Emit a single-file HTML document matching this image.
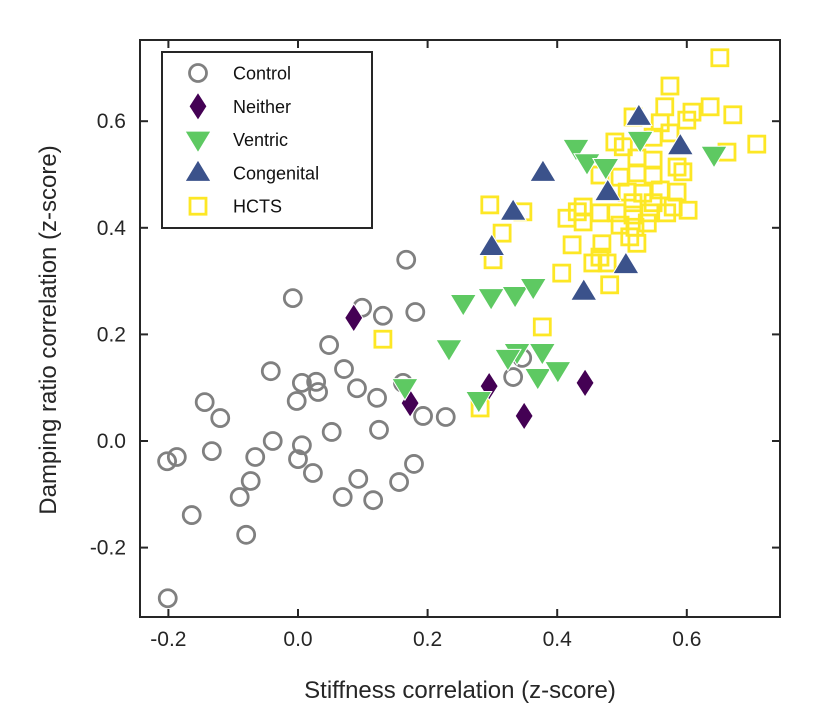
<!DOCTYPE html>
<html><head><meta charset="utf-8"><style>
html,body{margin:0;padding:0;background:#fff;}
svg{display:block;font-family:"Liberation Sans",Arial,sans-serif;}
</style></head><body>
<svg id="chart" width="821" height="720" viewBox="0 0 821 720">
<g id="marks"></g>
<rect x="140" y="40" width="640" height="577" fill="none" stroke="#262626" stroke-width="2"/>
<g id="axes"></g>
<text x="460" y="698" text-anchor="middle" font-size="24" fill="#262626">Stiffness correlation (z-score)</text>
<text transform="translate(56,330) rotate(-90)" text-anchor="middle" font-size="24" fill="#262626">Damping ratio correlation (z-score)</text>
<g id="legend">
<rect x="162" y="52" width="210" height="176" fill="#fff" stroke="#262626" stroke-width="2"/>
</g>
</svg>
<script>
const xTicks=[-0.2,0.0,0.2,0.4,0.6];
const yTicks=[-0.2,0.0,0.2,0.4,0.6];
const controlX=[0.167,-0.008,0.099,0.131,0.181,0.048,-0.042,0.071,0.006,0.028,0.031,0.091,-0.002,0.122,0.162,0.193,0.228,-0.144,-0.120,0.052,0.125,-0.039,0.006,0.000,0.023,-0.066,-0.133,-0.202,-0.187,-0.073,-0.090,-0.164,-0.080,0.069,0.093,0.116,0.156,0.179,-0.201,0.332,0.346];
const controlY=[0.340,0.268,0.250,0.235,0.242,0.180,0.131,0.135,0.109,0.111,0.092,0.099,0.075,0.081,0.109,0.047,0.045,0.073,0.043,0.017,0.021,0.000,-0.008,-0.034,-0.060,-0.030,-0.019,-0.038,-0.030,-0.075,-0.105,-0.139,-0.176,-0.105,-0.071,-0.111,-0.077,-0.043,-0.295,0.120,0.156];
const neitherX=[0.086,0.173,0.295,0.349,0.443];
const neitherY=[0.231,0.071,0.103,0.047,0.109];
const ventricX=[0.255,0.298,0.335,0.363,0.233,0.338,0.324,0.377,0.370,0.401,0.279,0.165,0.429,0.446,0.475,0.528,0.642];
const ventricY=[0.259,0.270,0.274,0.289,0.174,0.167,0.156,0.167,0.120,0.133,0.077,0.101,0.550,0.523,0.514,0.565,0.537];
const congenX=[0.526,0.590,0.378,0.478,0.332,0.299,0.506,0.441];
const congenY=[0.608,0.553,0.503,0.467,0.430,0.364,0.330,0.280];
const hctsX=[0.651,0.574,0.566,0.608,0.636,0.671,0.708,0.517,0.559,0.600,0.489,0.502,0.548,0.574,0.662,0.523,0.548,0.466,0.497,0.523,0.548,0.585,0.594,0.508,0.532,0.559,0.585,0.517,0.548,0.579,0.296,0.347,0.415,0.431,0.440,0.466,0.492,0.517,0.543,0.569,0.602,0.440,0.497,0.520,0.539,0.315,0.512,0.523,0.423,0.469,0.466,0.455,0.477,0.407,0.481,0.301,0.377,0.281,0.131];
const hctsY=[0.719,0.666,0.627,0.617,0.627,0.612,0.557,0.608,0.597,0.602,0.561,0.552,0.570,0.578,0.542,0.531,0.527,0.499,0.495,0.503,0.499,0.514,0.505,0.467,0.465,0.471,0.467,0.447,0.447,0.439,0.443,0.430,0.418,0.430,0.439,0.428,0.428,0.424,0.428,0.428,0.433,0.411,0.405,0.401,0.409,0.390,0.383,0.371,0.368,0.370,0.345,0.334,0.334,0.315,0.293,0.340,0.214,0.062,0.191];

const X0=140,X1=780,Y0=40,Y1=617;
function sx(v){return 298+v*648;}
function sy(v){return 441-v*533;}
const NS="http://www.w3.org/2000/svg";
function mk(tag,attrs,parent){const e=document.createElementNS(NS,tag);for(const k in attrs)e.setAttribute(k,attrs[k]);parent.appendChild(e);return e;}
const axes=document.getElementById('axes'),marks=document.getElementById('marks'),legend=document.getElementById('legend');
xTicks.forEach(t=>{const x=sx(t);
 let a=mk('line',{x1:x,x2:x,y1:Y1,y2:Y1-8,stroke:'#262626','stroke-width':2},axes);
 
 let b=mk('line',{x1:x,x2:x,y1:Y0,y2:Y0+8,stroke:'#262626','stroke-width':2},axes);
 
 let l=mk('text',{x:x,y:646,'text-anchor':'middle','font-size':21,fill:'#262626'},axes);
 l.textContent=t.toFixed(1);
 });
yTicks.forEach(t=>{const y=sy(t);
 let a=mk('line',{x1:X0,x2:X0+8,y1:y,y2:y,stroke:'#262626','stroke-width':2},axes);
 
 let b=mk('line',{x1:X1,x2:X1-8,y1:y,y2:y,stroke:'#262626','stroke-width':2},axes);
 
 let l=mk('text',{x:126,y:y+7,'text-anchor':'end','font-size':21,fill:'#262626'},axes);
 l.textContent=t.toFixed(1);
 });
function marker(type,cx,cy,parent){
 let e;
 if(type==='control')e=mk('circle',{cx:cx,cy:cy,r:8.5,fill:'none',stroke:'#808080','stroke-width':2.8},parent);
 else if(type==='hcts')e=mk('rect',{x:cx-8,y:cy-8,width:16,height:16,fill:'none',stroke:'#fde725','stroke-width':2.8},parent);
 else if(type==='neither')e=mk('polygon',{points:`${cx},${cy-14} ${cx+9},${cy} ${cx},${cy+14} ${cx-9},${cy}`,fill:'#440154',stroke:'#fff','stroke-width':1},parent);
 else if(type==='ventric')e=mk('polygon',{points:`${cx-13},${cy-8.5} ${cx+13},${cy-8.5} ${cx},${cy+13}`,fill:'#5ec962',stroke:'#fff','stroke-width':1},parent);
 else e=mk('polygon',{points:`${cx-13},${cy+8.5} ${cx+13},${cy+8.5} ${cx},${cy-13}`,fill:'#3b528b',stroke:'#fff','stroke-width':1},parent);
 return e;}
function series(type,xs,ys){xs.forEach((v,i)=>{const e=marker(type,sx(v),sy(ys[i]),marks);
 
 });}
series('hcts',hctsX,hctsY);
series('control',controlX,controlY);
series('neither',neitherX,neitherY);
series('ventric',ventricX,ventricY);
series('congenital',congenX,congenY);
const legNames=['Control','Neither','Ventric','Congenital','HCTS'];
const legTypes=['control','neither','ventric','congenital','hcts'];
legNames.forEach((n,i)=>{const y=73+i*33.3;
 const m=marker(legTypes[i],198,y,legend);
 
 
 const t=mk('text',{x:233,y:y+6.5,'font-size':18,fill:'#111'},legend);
 t.textContent=n;
 
 });
</script>
</body></html>
